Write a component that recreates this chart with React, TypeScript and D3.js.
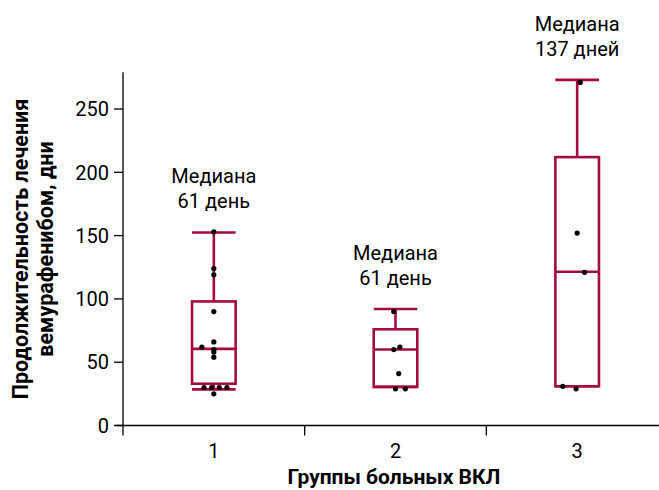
import React from "react";
import * as d3 from "d3";

// groups and box statistics
const groups = ["1", "2", "3"];
const q1 = [33, 30.5, 31];
const medians = [60.5, 60, 121.5];
const q3 = [98, 76, 212];
const whiskerLow = [28.5, 30.5, 31];
const whiskerHigh = [152.5, 92, 273];
const medianDays = ["61 день", "61 день", "137 дней"];

// individual patients (value, horizontal jitter as share of half box)
const pointsGroup1 = [153, 124, 119, 90, 66, 62, 60, 58, 54, 30, 30, 30, 30, 25];
const jitterGroup1 = [0, 0, 0, 0, 0, -0.55, 0, 0, 0, -0.45, -0.1, 0.25, 0.6, 0];
const pointsGroup2 = [90, 62, 60, 41, 29, 29];
const jitterGroup2 = [-0.08, 0.2, -0.08, 0.15, 0, 0.45];
const pointsGroup3 = [271, 152, 121, 31, 29];
const jitterGroup3 = [0.14, 0, 0.34, -0.66, -0.05];

const yTicks = [0, 50, 100, 150, 200, 250];

const W = 659;
const H = 490;
const boxColor = "#a50a42";
const font = "Roboto, 'Noto Sans', sans-serif";

const App = () => {
  const x = d3.scaleBand().domain(groups).range([123, 668]).padding(0);
  const y = d3.scaleLinear().domain([0, 279]).range([425.5, 72.3]);
  const boxW = x.bandwidth() * 0.24;
  const jit = d3.scaleLinear().domain([-1, 1]).range([-boxW / 2, boxW / 2]);

  const points = [
    pointsGroup1.map((v, i) => ({ g: "1", v, j: jitterGroup1[i] })),
    pointsGroup2.map((v, i) => ({ g: "2", v, j: jitterGroup2[i] })),
    pointsGroup3.map((v, i) => ({ g: "3", v, j: jitterGroup3[i] })),
  ].flat();

  const cx = (g) => x(g) + x.bandwidth() / 2;
  const axisX = x.range()[0];
  const y0 = y(0);

  return (
    <div style={{ position: "absolute", left: 0, top: 0 }}>
      <svg width={W} height={H} style={{ display: "block" }}>
        <rect width={W} height={H} fill="#fff" />

        {/* axes */}
        <g stroke="#000" strokeWidth={1.3}>
          <line x1={axisX} x2={axisX} y1={y.range()[1]} y2={y0 + 10} />
          <line x1={axisX - 8} x2={W} y1={y0} y2={y0} />
          {yTicks.map((t) => (
            <line key={t} x1={axisX - 9} x2={axisX} y1={y(t)} y2={y(t)} />
          ))}
          {groups.slice(1).map((g) => (
            <line key={g} x1={x(g)} x2={x(g)} y1={y0} y2={y0 + 10} />
          ))}
        </g>
        <g fontFamily={font} fontSize={20} fill="#000">
          {yTicks.map((t) => (
            <text key={t} x={109} y={y(t)} textAnchor="end" dy="0.36em">
              {t}
            </text>
          ))}
          {groups.map((g) => (
            <text key={g} x={cx(g)} y={458} textAnchor="middle">
              {g}
            </text>
          ))}
        </g>

        {/* axis titles */}
        <text
          x={394}
          y={484}
          textAnchor="middle"
          fontFamily={font}
          fontWeight="bold"
          fontSize={21}
        >
          Группы больных ВКЛ
        </text>
        <g transform="translate(0,249) rotate(-90)" fontFamily={font} fontWeight="bold" fontSize={21.5} textAnchor="middle">
          <text x={0} y={28}>Продолжительность лечения</text>
          <text x={0} y={53}>вемурафенибом, дни</text>
        </g>

        {/* boxes */}
        <g stroke={boxColor} strokeWidth={2.6} fill="none">
          {groups.map((g, i) => {
            const c = cx(g);
            return (
              <g key={g}>
                <line x1={c} x2={c} y1={y(whiskerHigh[i])} y2={y(q3[i])} />
                <line x1={c} x2={c} y1={y(q1[i])} y2={y(whiskerLow[i])} />
                <line x1={c - boxW / 2} x2={c + boxW / 2} y1={y(whiskerHigh[i])} y2={y(whiskerHigh[i])} />
                <line x1={c - boxW / 2} x2={c + boxW / 2} y1={y(whiskerLow[i])} y2={y(whiskerLow[i])} />
                <rect x={c - boxW / 2} y={y(q3[i])} width={boxW} height={y(q1[i]) - y(q3[i])} />
                <line x1={c - boxW / 2} x2={c + boxW / 2} y1={y(medians[i])} y2={y(medians[i])} />
              </g>
            );
          })}
        </g>

        {/* points */}
        <g fill="#000">
          {points.map((p, i) => (
            <circle key={i} cx={cx(p.g) + jit(p.j)} cy={y(p.v)} r={2.6} />
          ))}
        </g>

        {/* median labels */}
        <g fontFamily={font} fontSize={20} textAnchor="middle" fill="#000">
          {groups.map((g, i) => (
            <g key={g}>
              <text x={cx(g)} y={y(whiskerHigh[i]) - 49}>Медиана</text>
              <text x={cx(g)} y={y(whiskerHigh[i]) - 24}>{medianDays[i]}</text>
            </g>
          ))}
        </g>
      </svg>
    </div>
  );
};

export default App;
